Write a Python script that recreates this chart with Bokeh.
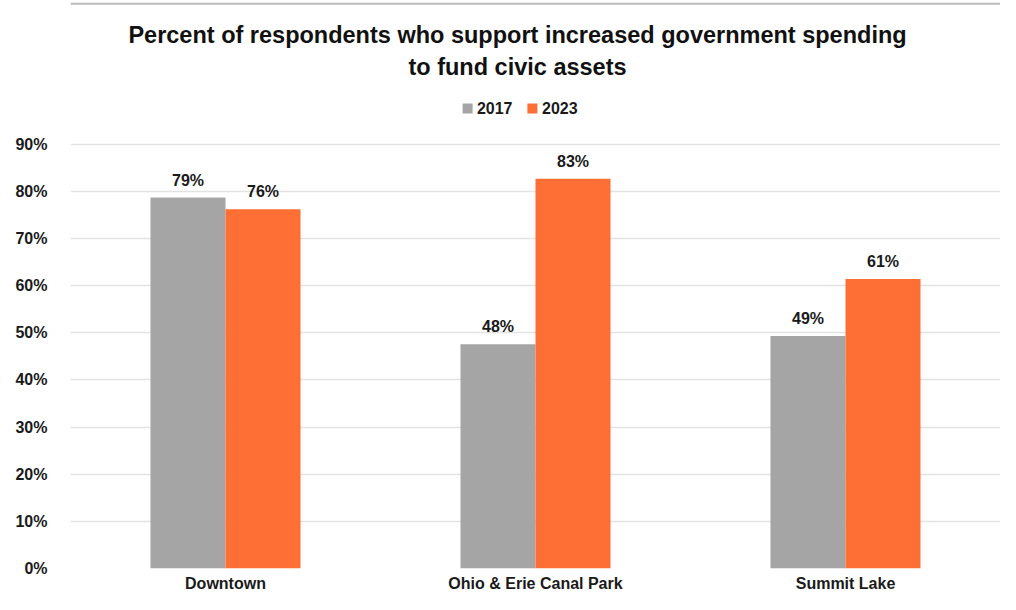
from bokeh.plotting import figure
from bokeh.models import FactorRange, Range1d, FixedTicker, PrintfTickFormatter, Label, ColumnDataSource, Span
from bokeh.transform import dodge
from bokeh.core.properties import value
from bokeh.embed import file_html
from bokeh.resources import INLINE

categories = ["Downtown", "Ohio & Erie Canal Park", "Summit Lake"]
series = ["2017", "2023"]
values_2017 = [78.7, 47.6, 49.3]
values_2023 = [76.2, 82.7, 61.4]
colors = ["#a5a5a5", "#fe6f36"]
y_ticks = [0, 10, 20, 30, 40, 50, 60, 70, 80, 90]
title_lines = ["Percent of respondents who support increased government spending",
               "to fund civic assets"]

FONT = "Liberation Sans"
TXT = "#1a1a1a"

p = figure(width=1000, height=594, x_range=FactorRange(factors=categories, range_padding=0),
           y_range=Range1d(0, 120.5), output_backend="svg", toolbar_location=None,
           min_border_left=70, min_border_right=0, min_border_top=0, min_border_bottom=25)
p.outline_line_color = None
p.background_fill_color = "white"
p.border_fill_color = "white"

src = ColumnDataSource(dict(cat=categories, v17=values_2017, v23=values_2023,
                            l17=[f"{round(v)}%" for v in values_2017],
                            l23=[f"{round(v)}%" for v in values_2023]))

offs = [-0.121, 0.121]
for s, col, vk, lk, off in zip(series, colors, ["v17", "v23"], ["l17", "l23"], offs):
    xd = dodge("cat", off, range=p.x_range)
    p.vbar(x=xd, top=vk, width=0.242, source=src, fill_color=col, line_color=None)
    p.text(x=xd, y=vk, text=lk, source=src, text_align="center", text_baseline="bottom",
           y_offset=-9, text_font=value(FONT), text_font_style="bold", text_font_size="16px",
           text_color=TXT)

# thin grey rule at the very top
p.add_layout(Span(location=119.8, dimension="width", line_color="#bcbcbc", line_width=2))

# title
for t, yy in zip(title_lines, [113.1, 106.3]):
    p.add_layout(Label(x=1.442, y=yy, text=t, text_align="center", text_baseline="middle",
                       text_font=FONT, text_font_style="bold", text_font_size="23.5px",
                       text_color="#111111"))

# legend (manual)
leg_y = 97.6
leg_sq_x = [1.281, 1.490]
leg_tx_x = [1.311, 1.521]
p.scatter(x=leg_sq_x, y=[leg_y, leg_y], marker="square", size=10, fill_color=colors, line_color=None)
p.text(x=leg_tx_x, y=[leg_y, leg_y], text=series, text_align="left", text_baseline="middle",
       text_font=value(FONT), text_font_style="bold", text_font_size="16px", text_color=TXT)

p.yaxis.ticker = FixedTicker(ticks=y_ticks)
p.yaxis.formatter = PrintfTickFormatter(format="%d%%")
p.yaxis.axis_line_color = None
p.yaxis.major_tick_line_color = None
p.yaxis.minor_tick_line_color = None
p.yaxis.major_label_standoff = 17
p.yaxis.major_label_text_font = FONT
p.yaxis.major_label_text_font_style = "bold"
p.yaxis.major_label_text_font_size = "16px"
p.yaxis.major_label_text_color = TXT

p.xaxis.axis_line_color = None
p.xaxis.major_tick_line_color = None
p.xaxis.minor_tick_line_color = None
p.xaxis.major_tick_out = 0
p.xaxis.major_tick_in = 0
p.xaxis.major_label_standoff = 6
p.xaxis.major_label_text_font = FONT
p.xaxis.major_label_text_font_style = "bold"
p.xaxis.major_label_text_font_size = "16px"
p.xaxis.major_label_text_color = TXT

p.xgrid.grid_line_color = None
p.ygrid.ticker = FixedTicker(ticks=y_ticks)
p.ygrid.grid_line_color = "#e3e3e3"
p.ygrid.grid_line_width = 1.5

open("out.html", "w").write(file_html(p, INLINE))
